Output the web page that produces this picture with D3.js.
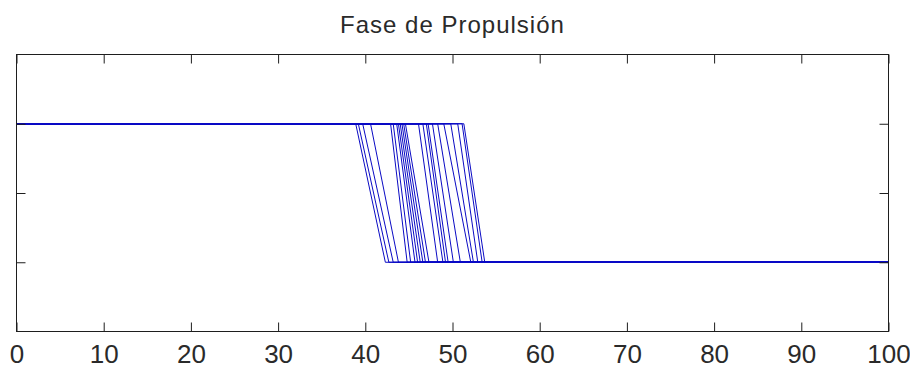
<!DOCTYPE html>
<html>
<head>
<meta charset="utf-8">
<script src="https://cdn.jsdelivr.net/npm/d3@7"></script>
<style>
  body { margin: 0; background: #fff; }
  svg { display: block; }
  text { font-family: "Liberation Sans", Arial, sans-serif; fill: #2a2a2a; }
</style>
</head>
<body>
<svg id="chart" width="910" height="369"></svg>
<script>
// propulsion phase: each trace sits high, falls, then stays low
var titleText = "Fase de Propulsión";
var xTicks = [0, 10, 20, 30, 40, 50, 60, 70, 80, 90, 100];
var yTicks = [0, 0.5, 1];
var levelHigh = 1;
var levelLow = 0;
// % of cycle where each trace leaves the high level
var fallStart = [38.9, 39.2, 39.7, 40.6, 42.9, 43.2, 43.6, 43.8, 44.0, 44.2, 44.4, 44.6,
                 46.1, 46.6, 47.0, 47.2, 47.7, 48.3, 49.0, 49.8, 50.6, 51.1, 51.3];
// % of cycle where it reaches the low level
var fallEnd = [42.3, 42.7, 43.2, 43.8, 44.8, 45.2, 45.7, 46.0, 46.3, 46.6, 46.9, 47.3,
               48.3, 48.9, 49.2, 49.5, 50.1, 50.9, 52.1, 52.4, 52.9, 53.4, 53.7];

var svg = d3.select("#chart");
svg.append("rect").attr("width", 910).attr("height", 369).attr("fill", "#fff");

var x = d3.scaleLinear().domain([0, 100]).range([16.5, 888.5]);
var y = d3.scaleLinear().domain([-0.5, 1.5]).range([331.5, 54.5]);
var tick = 9;

// traces
var traces = fallStart.map(function (s, i) {
    return [[0, levelHigh], [s, levelHigh], [fallEnd[i], levelLow], [100, levelLow]];
});
var line = d3.line()
    .x(function (d) { return x(d[0]); })
    .y(function (d) { return y(d[1]); });
svg.append("g")
    .selectAll("path")
    .data(traces)
    .enter().append("path")
    .attr("d", line)
    .attr("fill", "none")
    .attr("stroke", "#0a0ac4")
    .attr("stroke-width", 1);

// axes, ticks pointing inward on all four sides
function styleAxis(g) {
    g.select(".domain").remove();
    g.selectAll(".tick line").attr("stroke", "#1e1e1e");
}
svg.append("g")
    .attr("transform", "translate(0," + y.range()[0] + ")")
    .call(d3.axisBottom(x).tickValues(xTicks).tickSizeInner(-tick).tickSizeOuter(0).tickPadding(13))
    .call(styleAxis)
    .selectAll("text")
    .attr("font-size", 26)
    .attr("fill", "#2a2a2a");
svg.append("g")
    .attr("transform", "translate(0," + y.range()[1] + ")")
    .call(d3.axisTop(x).tickValues(xTicks).tickSizeInner(-tick).tickSizeOuter(0).tickFormat(""))
    .call(styleAxis);
svg.append("g")
    .attr("transform", "translate(" + x.range()[0] + ",0)")
    .call(d3.axisLeft(y).tickValues(yTicks).tickSizeInner(-tick).tickSizeOuter(0).tickFormat(""))
    .call(styleAxis);
svg.append("g")
    .attr("transform", "translate(" + x.range()[1] + ",0)")
    .call(d3.axisRight(y).tickValues(yTicks).tickSizeInner(-tick).tickSizeOuter(0).tickFormat(""))
    .call(styleAxis);

svg.append("rect")
    .attr("x", x.range()[0]).attr("y", y.range()[1])
    .attr("width", x.range()[1] - x.range()[0])
    .attr("height", y.range()[0] - y.range()[1])
    .attr("fill", "none")
    .attr("stroke", "#1e1e1e")
    .attr("stroke-width", 1);

svg.append("text")
    .attr("x", (x.range()[0] + x.range()[1]) / 2)
    .attr("y", 33)
    .attr("text-anchor", "middle")
    .attr("font-size", 24)
    .attr("letter-spacing", 1)
    .text(titleText);
</script>
</body>
</html>
